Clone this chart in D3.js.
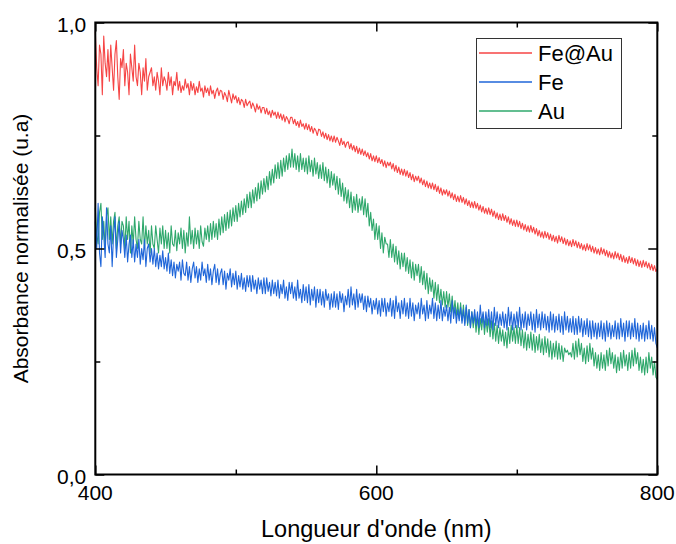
<!DOCTYPE html>
<html><head><meta charset="utf-8">
<script src="https://cdn.jsdelivr.net/npm/d3@7"></script>
<style>body{margin:0;background:#fff}svg{display:block}text{font-family:Arial,"Liberation Sans",sans-serif;fill:#000}</style>
</head><body><svg id="c" width="676" height="544"></svg>
<script>
// wavelengths 400..800 nm, step 1 nm
const wlStart = 400, wlStep = 1;
const feAu = [
.98,.90,.86,.95,.93,.84,.97,.91,.88,.94,
.87,.95,.90,.85,.93,.96,.88,.83,.92,.90,
.94,.86,.91,.89,.84,.93,.90,.87,.95,.88,
.86,.91,.89,.84,.90,.87,.92,.85,.88,.89,
.90,.86,.88,.85,.89,.87,.84,.90,.86,.88,
.87,.85,.89,.86,.88,.84,.87,.86,.89,.85,
.87,.845,.86,.85,.875,.855,.865,.84,.87,.85,
.865,.84,.858,.845,.87,.848,.855,.835,.86,.845,
.855,.838,.86,.842,.85,.832,.848,.855,.838,.85,
.848,.83,.845,.838,.825,.85,.836,.822,.842,.83,
.838,.822,.834,.818,.83,.826,.812,.83,.816,.822,
.826,.81,.822,.814,.802,.82,.808,.815,.8,.812,
.812,.798,.81,.796,.804,.79,.806,.795,.802,.788,
.802,.788,.798,.784,.796,.78,.792,.786,.776,.79,
.79,.776,.786,.772,.781,.768,.784,.77,.776,.764,
.777,.763,.774,.759,.77,.755,.766,.761,.75,.764,
.762,.748,.758,.744,.755,.741,.752,.738,.749,.736,
.749,.735,.746,.738,.728,.744,.73,.737,.724,.734,
.736,.721,.732,.718,.728,.714,.726,.71,.722,.708,
.72,.706,.716,.703,.712,.698,.71,.694,.705,.692,
.705,.69,.701,.688,.697,.682,.694,.679,.691,.683,
.691,.676,.688,.671,.684,.668,.68,.664,.676,.662,
.675,.66,.672,.657,.668,.652,.664,.648,.66,.65,
.66,.645,.656,.641,.652,.637,.649,.634,.645,.632,
.645,.63,.642,.626,.638,.622,.634,.618,.63,.62,
.63,.616,.627,.612,.623,.608,.62,.604,.616,.603,
.617,.602,.613,.598,.61,.595,.606,.591,.603,.59,
.604,.589,.6,.585,.596,.581,.593,.578,.589,.576,
.59,.575,.587,.571,.583,.567,.579,.564,.576,.562,
.577,.562,.573,.558,.57,.554,.566,.551,.563,.549,
.563,.548,.56,.544,.556,.541,.553,.538,.55,.536,
.551,.536,.547,.532,.544,.528,.54,.525,.537,.523,
.538,.524,.535,.52,.532,.517,.529,.515,.527,.512,
.529,.515,.526,.511,.523,.508,.52,.506,.517,.504,
.52,.506,.517,.502,.514,.5,.511,.497,.508,.495,
.511,.497,.508,.493,.505,.49,.502,.488,.499,.486,
.502,.488,.499,.484,.496,.481,.493,.479,.49,.477,
.493,.479,.49,.475,.487,.471,.484,.469,.48,.467,
.483,.469,.48,.466,.478,.462,.475,.46,.472,.458,
.474,.46,.471,.457,.468,.453,.465,.451,.462,.449,
.455];
const fe = [
.56,.50,.60,.49,.46,.57,.53,.48,.59,.51,
.49,.55,.46,.53,.57,.48,.52,.56,.49,.54,
.52,.48,.53,.47,.51,.53,.48,.52,.47,.51,
.48,.52,.465,.50,.475,.52,.46,.50,.51,.47,
.50,.465,.50,.46,.49,.455,.485,.46,.495,.455,
.48,.45,.49,.445,.475,.44,.47,.435,.465,.45,
.47,.43,.475,.445,.44,.47,.43,.46,.425,.455,
.47,.435,.46,.425,.455,.43,.47,.44,.455,.425,
.465,.43,.455,.42,.45,.465,.425,.455,.42,.445,
.455,.42,.45,.41,.445,.43,.455,.415,.445,.42,
.45,.41,.44,.415,.445,.41,.435,.405,.44,.415,
.44,.405,.44,.41,.43,.40,.435,.41,.43,.40,
.435,.40,.435,.405,.425,.395,.43,.40,.425,.395,
.43,.39,.42,.40,.43,.39,.415,.385,.425,.40,
.425,.39,.415,.385,.43,.39,.41,.38,.42,.385,
.415,.38,.42,.375,.41,.385,.415,.37,.41,.38,
.41,.375,.405,.37,.41,.385,.40,.365,.40,.37,
.405,.37,.40,.365,.405,.38,.40,.36,.395,.375,
.41,.37,.415,.375,.40,.365,.41,.37,.40,.38,
.40,.365,.395,.36,.395,.37,.39,.355,.385,.365,
.39,.355,.385,.35,.39,.36,.39,.35,.38,.36,
.39,.35,.385,.345,.395,.36,.38,.345,.385,.355,
.39,.35,.38,.345,.39,.35,.38,.34,.375,.355,
.38,.345,.39,.355,.375,.34,.385,.345,.375,.355,
.39,.345,.38,.34,.375,.345,.385,.34,.37,.35,
.375,.34,.37,.335,.385,.345,.37,.335,.365,.34,
.37,.335,.365,.33,.375,.335,.365,.325,.36,.335,
.365,.33,.36,.325,.375,.335,.36,.325,.36,.33,
.365,.325,.36,.32,.37,.33,.36,.325,.355,.33,
.36,.325,.355,.32,.37,.33,.36,.32,.355,.325,
.36,.325,.37,.32,.355,.325,.36,.32,.355,.33,
.36,.32,.355,.315,.365,.325,.355,.32,.36,.325,
.355,.32,.35,.315,.36,.32,.355,.315,.35,.32,
.355,.315,.35,.31,.36,.32,.35,.315,.345,.315,
.35,.31,.345,.31,.35,.315,.345,.305,.34,.31,
.345,.305,.34,.30,.34,.305,.335,.30,.335,.305,
.34,.30,.335,.295,.34,.305,.335,.30,.33,.305,
.34,.30,.335,.30,.345,.305,.335,.295,.34,.305,
.34,.30,.335,.305,.345,.30,.335,.295,.33,.30,
.335,.295,.33,.30,.34,.30,.33,.295,.325,.29,
.28];
const au = [
.59,.53,.51,.58,.60,.52,.56,.50,.57,.59,
.52,.57,.51,.56,.58,.50,.55,.57,.51,.56,
.55,.50,.57,.52,.56,.49,.55,.51,.57,.52,
.50,.56,.52,.51,.57,.50,.55,.51,.54,.49,
.55,.51,.50,.55,.52,.49,.545,.51,.55,.50,
.54,.50,.535,.49,.55,.51,.505,.54,.495,.535,
.51,.545,.50,.54,.49,.535,.505,.57,.51,.54,
.50,.545,.51,.54,.50,.55,.515,.505,.545,.52,
.55,.515,.555,.52,.56,.525,.555,.52,.565,.53,
.57,.535,.575,.54,.58,.545,.585,.55,.59,.56,
.595,.56,.60,.57,.605,.575,.61,.58,.62,.59,
.625,.59,.63,.60,.635,.605,.645,.61,.65,.62,
.655,.625,.66,.63,.67,.64,.675,.645,.685,.655,
.69,.655,.695,.66,.70,.67,.705,.675,.71,.68,
.72,.68,.71,.675,.705,.67,.71,.675,.70,.67,
.70,.665,.705,.67,.695,.66,.70,.665,.69,.655,
.685,.655,.69,.65,.68,.645,.675,.635,.67,.64,
.665,.63,.66,.62,.655,.615,.645,.605,.635,.60,
.63,.59,.625,.58,.615,.585,.62,.58,.61,.585,
.615,.575,.61,.57,.60,.55,.58,.54,.565,.52,
.555,.52,.55,.50,.535,.49,.525,.51,.51,.48,
.52,.48,.51,.47,.505,.465,.495,.455,.49,.46,
.49,.45,.48,.445,.475,.435,.47,.43,.465,.44,
.465,.425,.46,.42,.45,.41,.445,.40,.435,.405,
.43,.39,.425,.385,.42,.38,.41,.375,.405,.37,
.405,.37,.40,.36,.395,.355,.385,.35,.38,.345,
.38,.34,.375,.335,.37,.33,.365,.325,.36,.325,
.355,.315,.35,.31,.345,.32,.355,.31,.345,.315,
.345,.305,.34,.30,.335,.295,.33,.29,.325,.295,
.32,.285,.315,.28,.325,.29,.33,.295,.325,.29,
.33,.29,.325,.285,.32,.28,.315,.275,.31,.28,
.315,.275,.31,.27,.305,.275,.31,.27,.30,.265,
.305,.27,.30,.26,.295,.255,.29,.26,.295,.255,
.29,.255,.285,.25,.28,.27,.275,.265,.27,.26,
.29,.255,.295,.26,.30,.265,.29,.25,.28,.245,
.285,.25,.29,.255,.28,.24,.27,.235,.265,.23,
.27,.235,.265,.23,.275,.24,.28,.245,.27,.235,
.265,.225,.26,.23,.27,.235,.275,.24,.265,.23,
.27,.235,.275,.24,.28,.245,.27,.23,.26,.225,
.255,.22,.26,.225,.27,.235,.26,.22,.25,.215,
.21];
const seriesNames = ["Fe@Au","Fe","Au"];
const seriesColors = ["#f64545","#1f66d9","#2fa86c"];
const xTickLabels = ["400","600","800"];
const yTickLabels = ["0,0","0,5","1,0"];
const xMajor = [400,600,800], xMinor = [500,700];
const yMajor = [0,0.5,1], yMinor = [0.25,0.75];

const svg = d3.select("#c");
const L=95.3, R=657.3, T=22.5, B=474.5;
const x = d3.scaleLinear().domain([400,800]).range([L,R]);
const y = d3.scaleLinear().domain([0,1]).range([B,T]);

const allSeries = [feAu, fe, au];
const line = d3.line().x((d,i)=>x(wlStart+i*wlStep)).y(d=>y(d));
[2,1,0].forEach(k=>{
  svg.append("path").datum(allSeries[k]).attr("d",line)
    .attr("fill","none").attr("stroke",seriesColors[k]).attr("stroke-width",1.1).attr("stroke-linejoin","round");
});

function ax(gen, tr){ const g=svg.append("g").attr("transform",tr).call(gen); g.select(".domain").remove(); g.selectAll("line").attr("stroke","#000").attr("stroke-width",1.5); g.selectAll("text").remove(); return g;}
ax(d3.axisBottom(x).tickValues(xMajor).tickSize(-9),`translate(0,${B})`);
ax(d3.axisBottom(x).tickValues(xMinor).tickSize(-5),`translate(0,${B})`);
ax(d3.axisTop(x).tickValues(xMajor).tickSize(-9),`translate(0,${T})`);
ax(d3.axisTop(x).tickValues(xMinor).tickSize(-5),`translate(0,${T})`);
ax(d3.axisLeft(y).tickValues(yMajor).tickSize(-9),`translate(${L},0)`);
ax(d3.axisLeft(y).tickValues(yMinor).tickSize(-5),`translate(${L},0)`);
ax(d3.axisRight(y).tickValues(yMajor).tickSize(-9),`translate(${R},0)`);
ax(d3.axisRight(y).tickValues(yMinor).tickSize(-5),`translate(${R},0)`);

svg.append("rect").attr("x",L).attr("y",T).attr("width",R-L).attr("height",B-T)
  .attr("fill","none").attr("stroke","#000").attr("stroke-width",2);

xMajor.forEach((v,i)=>svg.append("text").attr("x",x(v)).attr("y",B+25.5).attr("text-anchor","middle").attr("font-size",21).text(xTickLabels[i]));
yMajor.forEach((v,i)=>svg.append("text").attr("x",L-9).attr("y",y(v)+9.5).attr("text-anchor","end").attr("font-size",21).text(yTickLabels[i]));

svg.append("text").attr("x",(L+R)/2).attr("y",537).attr("text-anchor","middle").attr("font-size",23.5).text("Longueur d'onde (nm)");
svg.append("text").attr("transform",`translate(28,${(T+B)/2}) rotate(-90)`).attr("text-anchor","middle").attr("font-size",21).text("Absorbance normalisée (u.a)");

// legend
svg.append("rect").attr("x",476.5).attr("y",38.5).attr("width",145).attr("height",90).attr("fill","#fff").attr("stroke","#333").attr("stroke-width",1);
seriesNames.forEach((n,i)=>{
  const yy = 53 + i*29;
  svg.append("line").attr("x1",479).attr("x2",532).attr("y1",yy).attr("y2",yy).attr("stroke",seriesColors[i]).attr("stroke-width",1.3);
  svg.append("text").attr("x",538).attr("y",yy+8).attr("font-size",22).text(n);
});
</script></body></html>
